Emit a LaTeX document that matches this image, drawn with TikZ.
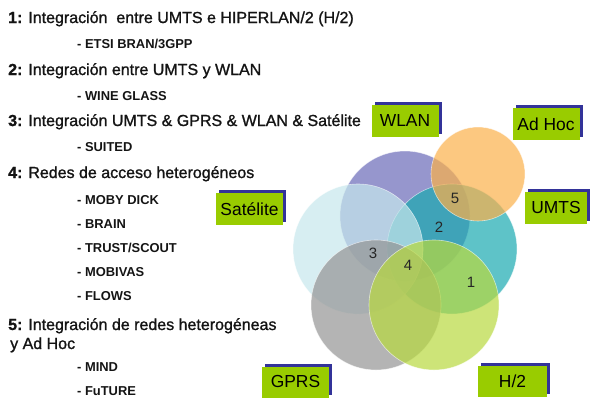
\documentclass[tikz,border=0pt]{standalone}
\usepackage{fontspec}
\setmainfont{Liberation Sans}
\newfontfamily\headfont{Liberation Sans}[RawFeature={embolden=1.2}]
\usetikzlibrary{shadows}
\definecolor{boxgreen}{RGB}{153,204,0}
\definecolor{shadowblue}{RGB}{51,51,153}
\definecolor{cwlan}{RGB}{105,105,184}
\definecolor{cadhoc}{RGB}{251,176,74}
\definecolor{cumts}{RGB}{26,169,176}
\definecolor{csat}{RGB}{198,231,236}
\definecolor{cgprs}{RGB}{148,148,148}
\definecolor{chtwo}{RGB}{184,217,62}
\definecolor{txt}{RGB}{20,20,20}
\begin{document}
\begin{tikzpicture}[x=1pt,y=-1pt,
  heading/.style={anchor=base west,inner sep=0pt,font=\headfont\fontsize{16}{18}\selectfont,text=txt},
  subitem/.style={anchor=base west,inner sep=0pt,font=\fontsize{12.9}{15}\selectfont\bfseries,text=txt},
  lbl/.style={fill=boxgreen,minimum width=67pt,minimum height=32pt,inner sep=0pt,
    font=\fontsize{17.4}{20}\selectfont,text=black,
    drop shadow={shadow xshift=3pt,shadow yshift=3pt,fill=shadowblue,opacity=1}},
  venn/.style={circle,inner sep=0pt,fill opacity=0.7,draw=white,draw opacity=0.6,line width=0.6pt},
  num/.style={inner sep=0pt,font=\fontsize{15}{18}\selectfont,text=black!85}]
\useasboundingbox (0,0) rectangle (591,399);
% left text
\node[heading] (h1) at (8,23) {\textbf{1:} Integración\ \ entre UMTS e HIPERLAN/2 (H/2)};
\node[subitem] (s1) at (77,48.5) {- ETSI BRAN/3GPP};
\node[heading] (h2) at (8,75) {\textbf{2:} Integración entre UMTS y WLAN};
\node[subitem] (s2) at (77,100) {- WINE GLASS};
\node[heading] (h3) at (8,126) {\textbf{3:} Integración UMTS \& GPRS \& WLAN \& Satélite};
\node[subitem] (s3) at (77,151.5) {- SUITED};
\node[heading] (h4) at (8,178) {\textbf{4:} Redes de acceso heterogéneos};
\node[subitem] (s4a) at (77,204) {- MOBY DICK};
\node[subitem] (s4b) at (77,228) {- BRAIN};
\node[subitem] (s4c) at (77,252) {- TRUST/SCOUT};
\node[subitem] (s4d) at (77,276.5) {- MOBIVAS};
\node[subitem] (s4e) at (77,300.5) {- FLOWS};
\node[heading] (h5) at (8,330) {\textbf{5:} Integración de redes heterogéneas};
\node[heading] (h5b) at (10,349) {y Ad Hoc};
\node[subitem] (s5a) at (77,371.5) {- MIND};
\node[subitem] (s5b) at (77,395.5) {- FuTURE};
% circles
\node[venn,fill=cwlan,minimum size=130pt] (cW) at (405,216) {};
\node[venn,fill=cumts,minimum size=130pt] (cU) at (452,249) {};
\node[venn,fill=csat,minimum size=130pt] (cS) at (358,249) {};
\node[venn,fill=cgprs,minimum size=130pt] (cG) at (376,305) {};
\node[venn,fill=chtwo,minimum size=130pt] (cH) at (434,305) {};
\node[venn,fill=cadhoc,minimum size=94pt] (cA) at (478,174) {};
% numbers
\node[num] (n5) at (455,198) {5};
\node[num] (n2) at (439,227) {2};
\node[num] (n3) at (373,253) {3};
\node[num] (n4) at (408,265) {4};
\node[num] (n1) at (471,282) {1};
% labels
\node[lbl] (lW) at (405,121) {WLAN};
\node[lbl] (lA) at (546,124) {Ad Hoc};
\node[lbl,minimum width=62pt] (lU) at (556,208) {UMTS};
\node[lbl] (lS) at (249.5,209) {Satélite};
\node[lbl,minimum height=31pt] (lG) at (295.5,382) {GPRS};
\node[lbl,minimum width=69pt,minimum height=31pt] (lH) at (512.5,381.5) {H/2};
\end{tikzpicture}
\end{document}
